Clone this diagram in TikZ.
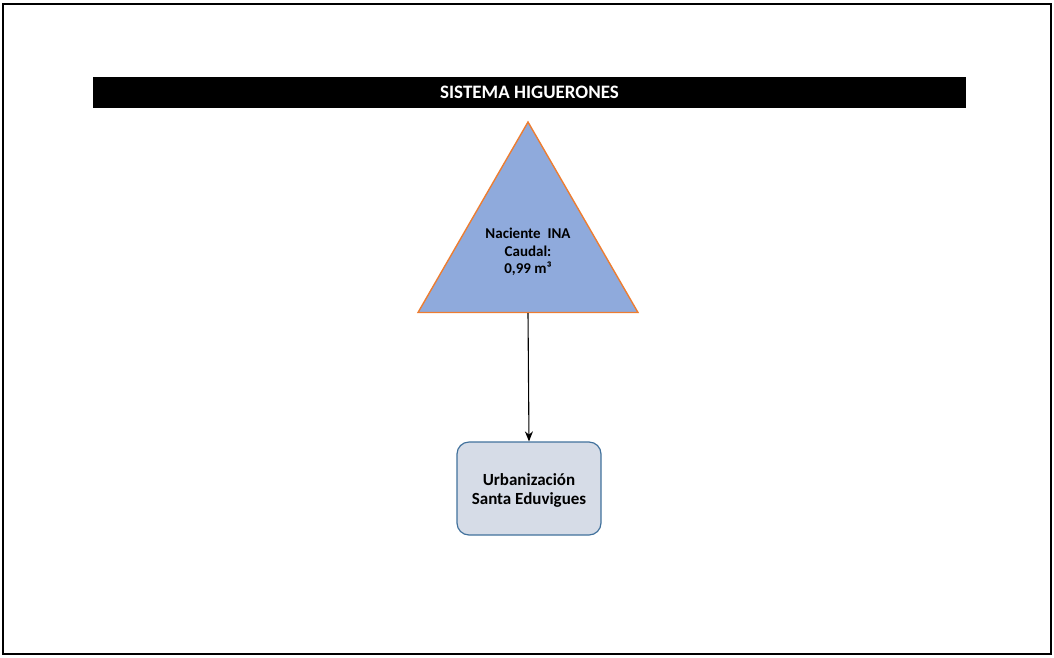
\documentclass[tikz,border=0pt]{standalone}
\usepackage{fontspec}
\setmainfont{Carlito}
\usetikzlibrary{shapes.geometric,arrows.meta}
\definecolor{trifill}{HTML}{8FAADC}
\definecolor{triedge}{HTML}{ED7D31}
\definecolor{boxfill}{HTML}{D6DCE7}
\definecolor{boxedge}{HTML}{41719C}
\tikzset{
  titlebar/.style={fill=black, text=white, font=\bfseries\fontsize{19}{22}\selectfont,
    minimum width=873pt, minimum height=31pt, inner sep=0pt},
  source/.style={regular polygon, regular polygon sides=3, minimum size=254pt,
    inner sep=0pt, fill=trifill, draw=triedge, line width=1.4pt},
  sourcetext/.style={font=\bfseries\fontsize{15}{17.5}\selectfont, align=center, inner sep=0pt},
  target/.style={rounded corners=12pt, fill=boxfill, draw=boxedge, line width=1.2pt,
    minimum width=144pt, minimum height=93pt, inner sep=0pt},
  targettext/.style={font=\bfseries\fontsize{17}{19}\selectfont, align=center, inner sep=0pt},
  flow/.style={-{Stealth[length=10pt,width=8pt]}, line width=1.1pt}
}
\begin{document}
\begin{tikzpicture}[x=1pt,y=-1pt]
  \useasboundingbox (0,0) rectangle (1054,657);
  % page frame
  \draw[line width=2pt] (2.5,3.5) rectangle (1051,654);
  % heading bar
  \node[titlebar] (title) at (529.5,92.5) {\raisebox{-1.5pt}{SISTEMA HIGUERONES}};
  % spring (triangle) and served community
  \node[source] (spring) at (528,249) {};
  \node[sourcetext] (springlabel) at (528,252) {Naciente\ \ INA\\Caudal:\\0,99 m³};
  \node[target] (urb) at (529,488.5) {};
  \node[targettext] (urblabel) at (529,490.5) {Urbanización\\Santa Eduvigues};
  \draw[flow] (spring.south) -- (urb.north);
\end{tikzpicture}
\end{document}
